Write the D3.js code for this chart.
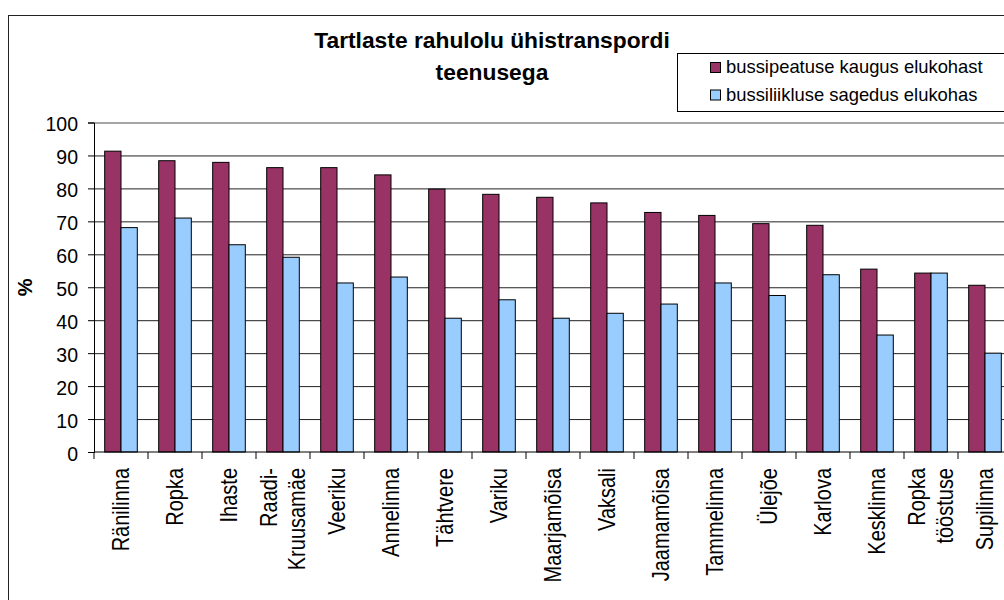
<!DOCTYPE html>
<html><head><meta charset="utf-8">
<script src="https://cdn.jsdelivr.net/npm/d3@7"></script>
<style>
body{margin:0;background:#fff}
svg{display:block}
text{font-family:"Liberation Sans",Arial,Helvetica,sans-serif;fill:#000}
</style>
</head><body>
<svg id="c" width="1004" height="600"></svg>
<script>
const categories = ["Ränilinna","Ropka","Ihaste","Raadi-\nKruusamäe","Veeriku","Annelinna","Tähtvere","Variku","Maarjamõisa","Vaksali","Jaamamõisa","Tammelinna","Ülejõe","Karlova","Kesklinna","Ropka\ntööstuse","Supilinna"];
const seriesNames = ["bussipeatuse kaugus elukohast","bussiliikluse sagedus elukohas"];
const distance  = [91.3, 88.4, 87.9, 86.3, 86.3, 84.1, 79.8, 78.2, 77.3, 75.6, 72.7, 71.8, 69.3, 68.8, 55.5, 54.3, 50.6];
const frequency = [68.1, 71.0, 62.9, 59.1, 51.3, 53.1, 40.6, 46.2, 40.6, 42.1, 44.9, 51.3, 47.5, 53.8, 35.5, 54.3, 30.0];
const yTicks = [0,10,20,30,40,50,60,70,80,90,100];
const titleLines = ["Tartlaste rahulolu ühistranspordi","teenusega"];
const yLabel = "%";
const colors = ["#993366","#99CCFF"];

const svg = d3.select("#c");
svg.append("rect").attr("width",1004).attr("height",600).attr("fill","#fff");

// outer chart border
svg.append("rect").attr("x",8.5).attr("y",15.5).attr("width",1100).attr("height",700)
  .attr("fill","none").attr("stroke","#222").attr("stroke-width",1);

const L = 94, R = 1012, T = 122.5, B = 452;
const x = d3.scaleBand().domain(categories.map((d,i)=>i)).range([L,R]).padding(0);
const step = x.bandwidth();
const xs = d3.scaleBand().domain([0,1]).range([step*0.198, step*0.802]).padding(0);
const y = d3.scaleLinear().domain([0,100]).range([B,T]);

// gridlines
const grid = svg.append("g").attr("transform",`translate(${L},0)`)
  .call(d3.axisLeft(y).tickValues(yTicks.filter(v=>v>0)).tickSize(-(R-L)).tickFormat(""));
grid.select(".domain").remove();
grid.selectAll(".tick line").attr("stroke",d=>d===100?"#888":"#222").attr("stroke-width",d=>d===100?1.6:1);

// bars
const series = [distance, frequency];
const groups = svg.append("g").selectAll("g").data(categories.map((c,i)=>i)).join("g")
  .attr("transform",i=>`translate(${x(i)},0)`);
groups.selectAll("rect").data(i=>series.map((s,k)=>({k, v:s[i]}))).join("rect")
  .attr("x",d=>xs(d.k)).attr("width",xs.bandwidth())
  .attr("y",d=>y(d.v)).attr("height",d=>B-y(d.v))
  .attr("fill",d=>colors[d.k]).attr("stroke","#000").attr("stroke-width",1);

// y axis
const ya = svg.append("g").attr("transform",`translate(${L},0)`)
  .call(d3.axisLeft(y).tickValues(yTicks).tickSize(6).tickPadding(10));
ya.select(".domain").attr("stroke","#000");
ya.selectAll(".tick line").attr("stroke","#000");
ya.selectAll(".tick text").attr("font-size","19.5px").attr("dy","0.42em")
  .attr("font-family","'Liberation Sans',Arial,sans-serif").attr("fill","#000");

// x axis
svg.append("line").attr("x1",L).attr("x2",1004).attr("y1",B).attr("y2",B).attr("stroke","#000");
const bounds = categories.map((c,i)=>x(i)).concat([R]);
svg.append("g").selectAll("line").data(bounds).join("line")
  .attr("x1",d=>d).attr("x2",d=>d).attr("y1",B).attr("y2",B+7).attr("stroke","#000");

const xl = svg.append("g").selectAll("text").data(categories.map((c,i)=>i)).join("text")
  .attr("transform",i=>`translate(${x(i)+step/2},468) rotate(-90) scale(1,1.17)`)
  .attr("text-anchor","end").attr("font-size","20px");
xl.each(function(i){
  const lines = categories[i].split("\n");
  const t = d3.select(this);
  lines.forEach((ln,j)=>{
    const off = (j-(lines.length-1)/2)*24;
    t.append("tspan").attr("x",0).attr("y",off+7.2).text(ln);
  });
});

// y label
svg.append("text").attr("transform",`translate(32,${(T+B)/2}) rotate(-90)`)
  .attr("text-anchor","middle").attr("font-size","20px").attr("font-weight","bold").text(yLabel);

// title
svg.append("g").selectAll("text").data(titleLines).join("text")
  .attr("x",492).attr("y",(d,i)=>48+i*32).attr("text-anchor","middle")
  .attr("font-size","22.8px").attr("font-weight","bold").text(d=>d);

// legend
svg.append("rect").attr("x",677.5).attr("y",53.5).attr("width",400).attr("height",58)
  .attr("fill","#fff").attr("stroke","#000");
const lg = svg.append("g").selectAll("g").data(seriesNames).join("g")
  .attr("transform",(d,i)=>`translate(710,${62+i*27.5})`);
lg.append("rect").attr("x",0.5).attr("y",0.5).attr("width",10).attr("height",10)
  .attr("fill",(d,i)=>colors[i]).attr("stroke","#000");
lg.append("text").attr("x",16).attr("y",11).attr("font-size","18.4px").text(d=>d);
</script>
</body></html>
